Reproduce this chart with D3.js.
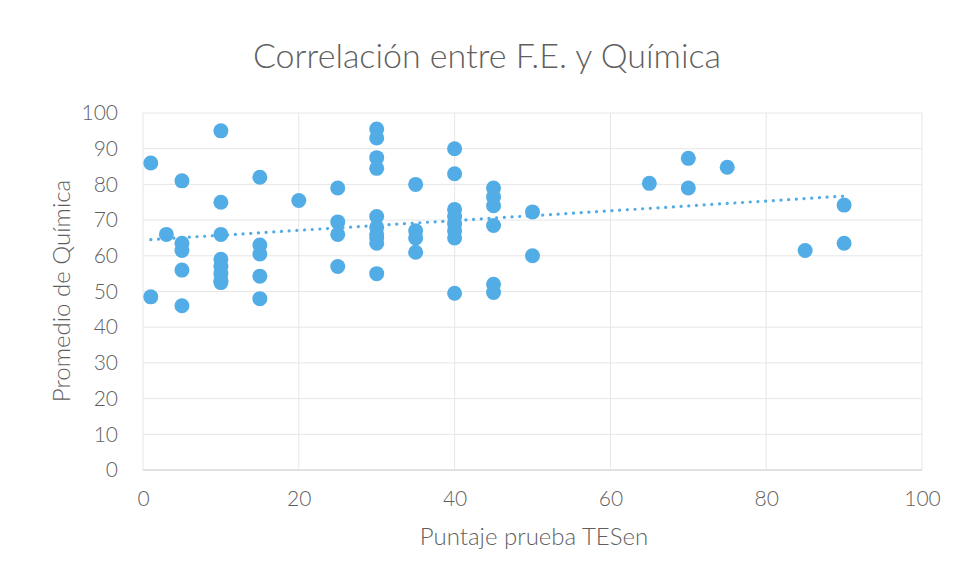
<!DOCTYPE html>
<html><head><meta charset="utf-8">
<script src="https://cdn.jsdelivr.net/npm/d3@7"></script>
<style>
html,body{margin:0;padding:0;background:#fff;}
svg{display:block;}
</style></head>
<body>
<svg id="chart" width="959" height="582"></svg>
<script>
const title = "Correlación entre F.E. y Química";
const xTitle = "Puntaje prueba TESen";
const yTitle = "Promedio de Química";
const xTicks = [0, 20, 40, 60, 80, 100];
const yTicks = [0, 10, 20, 30, 40, 50, 60, 70, 80, 90, 100];

// Puntaje TESen (x)
const tesen = [
  1, 1, 3,
  5, 5, 5, 5, 5,
  10, 10, 10, 10, 10, 10, 10, 10,
  15, 15, 15, 15, 15,
  20,
  25, 25, 25, 25,
  30, 30, 30, 30, 30, 30, 30, 30, 30, 30,
  35, 35, 35, 35,
  40, 40, 40, 40, 40, 40, 40, 40,
  45, 45, 45, 45, 45, 45,
  50, 50,
  65, 70, 70, 75, 85, 90, 90
];
// Promedio de Química (y)
const quimica = [
  86, 48.5, 66,
  81, 63.5, 61.5, 56, 46,
  95, 75, 66, 59, 57, 55, 52.5, 53,
  82, 63, 60.5, 54.3, 48,
  75.5,
  79, 69.5, 66, 57,
  95.5, 93, 87.5, 84.5, 71, 68, 66, 63.5, 55, 65,
  80, 67, 65, 61,
  90, 83, 73, 71, 69, 67, 65, 49.5,
  79, 76.5, 74, 68.5, 52, 49.7,
  72.3, 60,
  80.3, 87.3, 79, 84.8, 61.5, 74.2, 63.5
];

(function () {
const svg = d3.select("#chart");
const W = 959, H = 582;
const pl = 143, pr = 922, pt = 113, pb = 470;

svg.append("rect").attr("width", W).attr("height", H).attr("fill", "#ffffff");

const x = d3.scaleLinear().domain([0, 100]).range([pl, pr]);
const y = d3.scaleLinear().domain([0, 100]).range([pb, pt]);

const txt = "#5f5f5f";
const font = "Lato, 'Open Sans', 'Noto Sans', sans-serif";

// gridlines
svg.append("g").selectAll("line").data(yTicks).join("line")
  .attr("x1", pl).attr("x2", pr)
  .attr("y1", d => y(d)).attr("y2", d => y(d))
  .attr("stroke", d => d === 0 ? "#c4c4c4" : "#e6e6e6").attr("stroke-width", 1);
svg.append("g").selectAll("line").data(xTicks).join("line")
  .attr("x1", d => x(d)).attr("x2", d => x(d))
  .attr("y1", pt).attr("y2", pb)
  .attr("stroke", "#e6e6e6").attr("stroke-width", 1);

// axes labels via d3 axes
const xAxis = svg.append("g").attr("transform", `translate(0,${pb})`)
  .call(d3.axisBottom(x).tickValues(xTicks).tickSize(0).tickPadding(21));
const yAxis = svg.append("g").attr("transform", `translate(${pl},0)`)
  .call(d3.axisLeft(y).tickValues(yTicks).tickSize(0).tickPadding(25));
[xAxis, yAxis].forEach(g => {
  g.select(".domain").remove();
  g.selectAll("text").attr("fill", txt).style("font-family", font)
    .style("font-size", "21px").style("font-weight", 300);
});

// trendline (least squares)
const n = tesen.length;
const mx = d3.mean(tesen), my = d3.mean(quimica);
let sxy = 0, sxx = 0;
for (let i = 0; i < n; i++) { sxy += (tesen[i]-mx)*(quimica[i]-my); sxx += (tesen[i]-mx)**2; }
const slope = sxy / sxx, icpt = my - slope * mx;
const x0 = d3.min(tesen), x1 = d3.max(tesen);

// points
const pts = tesen.map((v, i) => ({x: v, y: quimica[i]}));
svg.append("g").selectAll("circle").data(pts).join("circle")
  .attr("cx", d => x(d.x)).attr("cy", d => y(d.y)).attr("r", 7.5)
  .attr("fill", "#52ade6");

svg.append("line")
  .attr("x1", x(x0)).attr("y1", y(icpt + slope * x0))
  .attr("x2", x(x1)).attr("y2", y(icpt + slope * x1))
  .attr("stroke", "#52ade6").attr("stroke-width", 3.2)
  .attr("stroke-linecap", "round").attr("stroke-dasharray", "0.1 7.6");

// titles
svg.append("text").attr("x", 487).attr("y", 68).attr("text-anchor", "middle")
  .attr("fill", txt).style("font-family", font).style("font-weight", 300)
  .style("font-size", "34px").text(title);
svg.append("text").attr("x", 534).attr("y", 545).attr("text-anchor", "middle")
  .attr("fill", txt).style("font-family", font).style("font-weight", 300)
  .style("font-size", "24px").text(xTitle);
svg.append("text").attr("transform", "translate(70,291) rotate(-90)").attr("text-anchor", "middle")
  .attr("fill", txt).style("font-family", font).style("font-weight", 300)
  .style("font-size", "24px").text(yTitle);
})();
</script>
</body></html>
